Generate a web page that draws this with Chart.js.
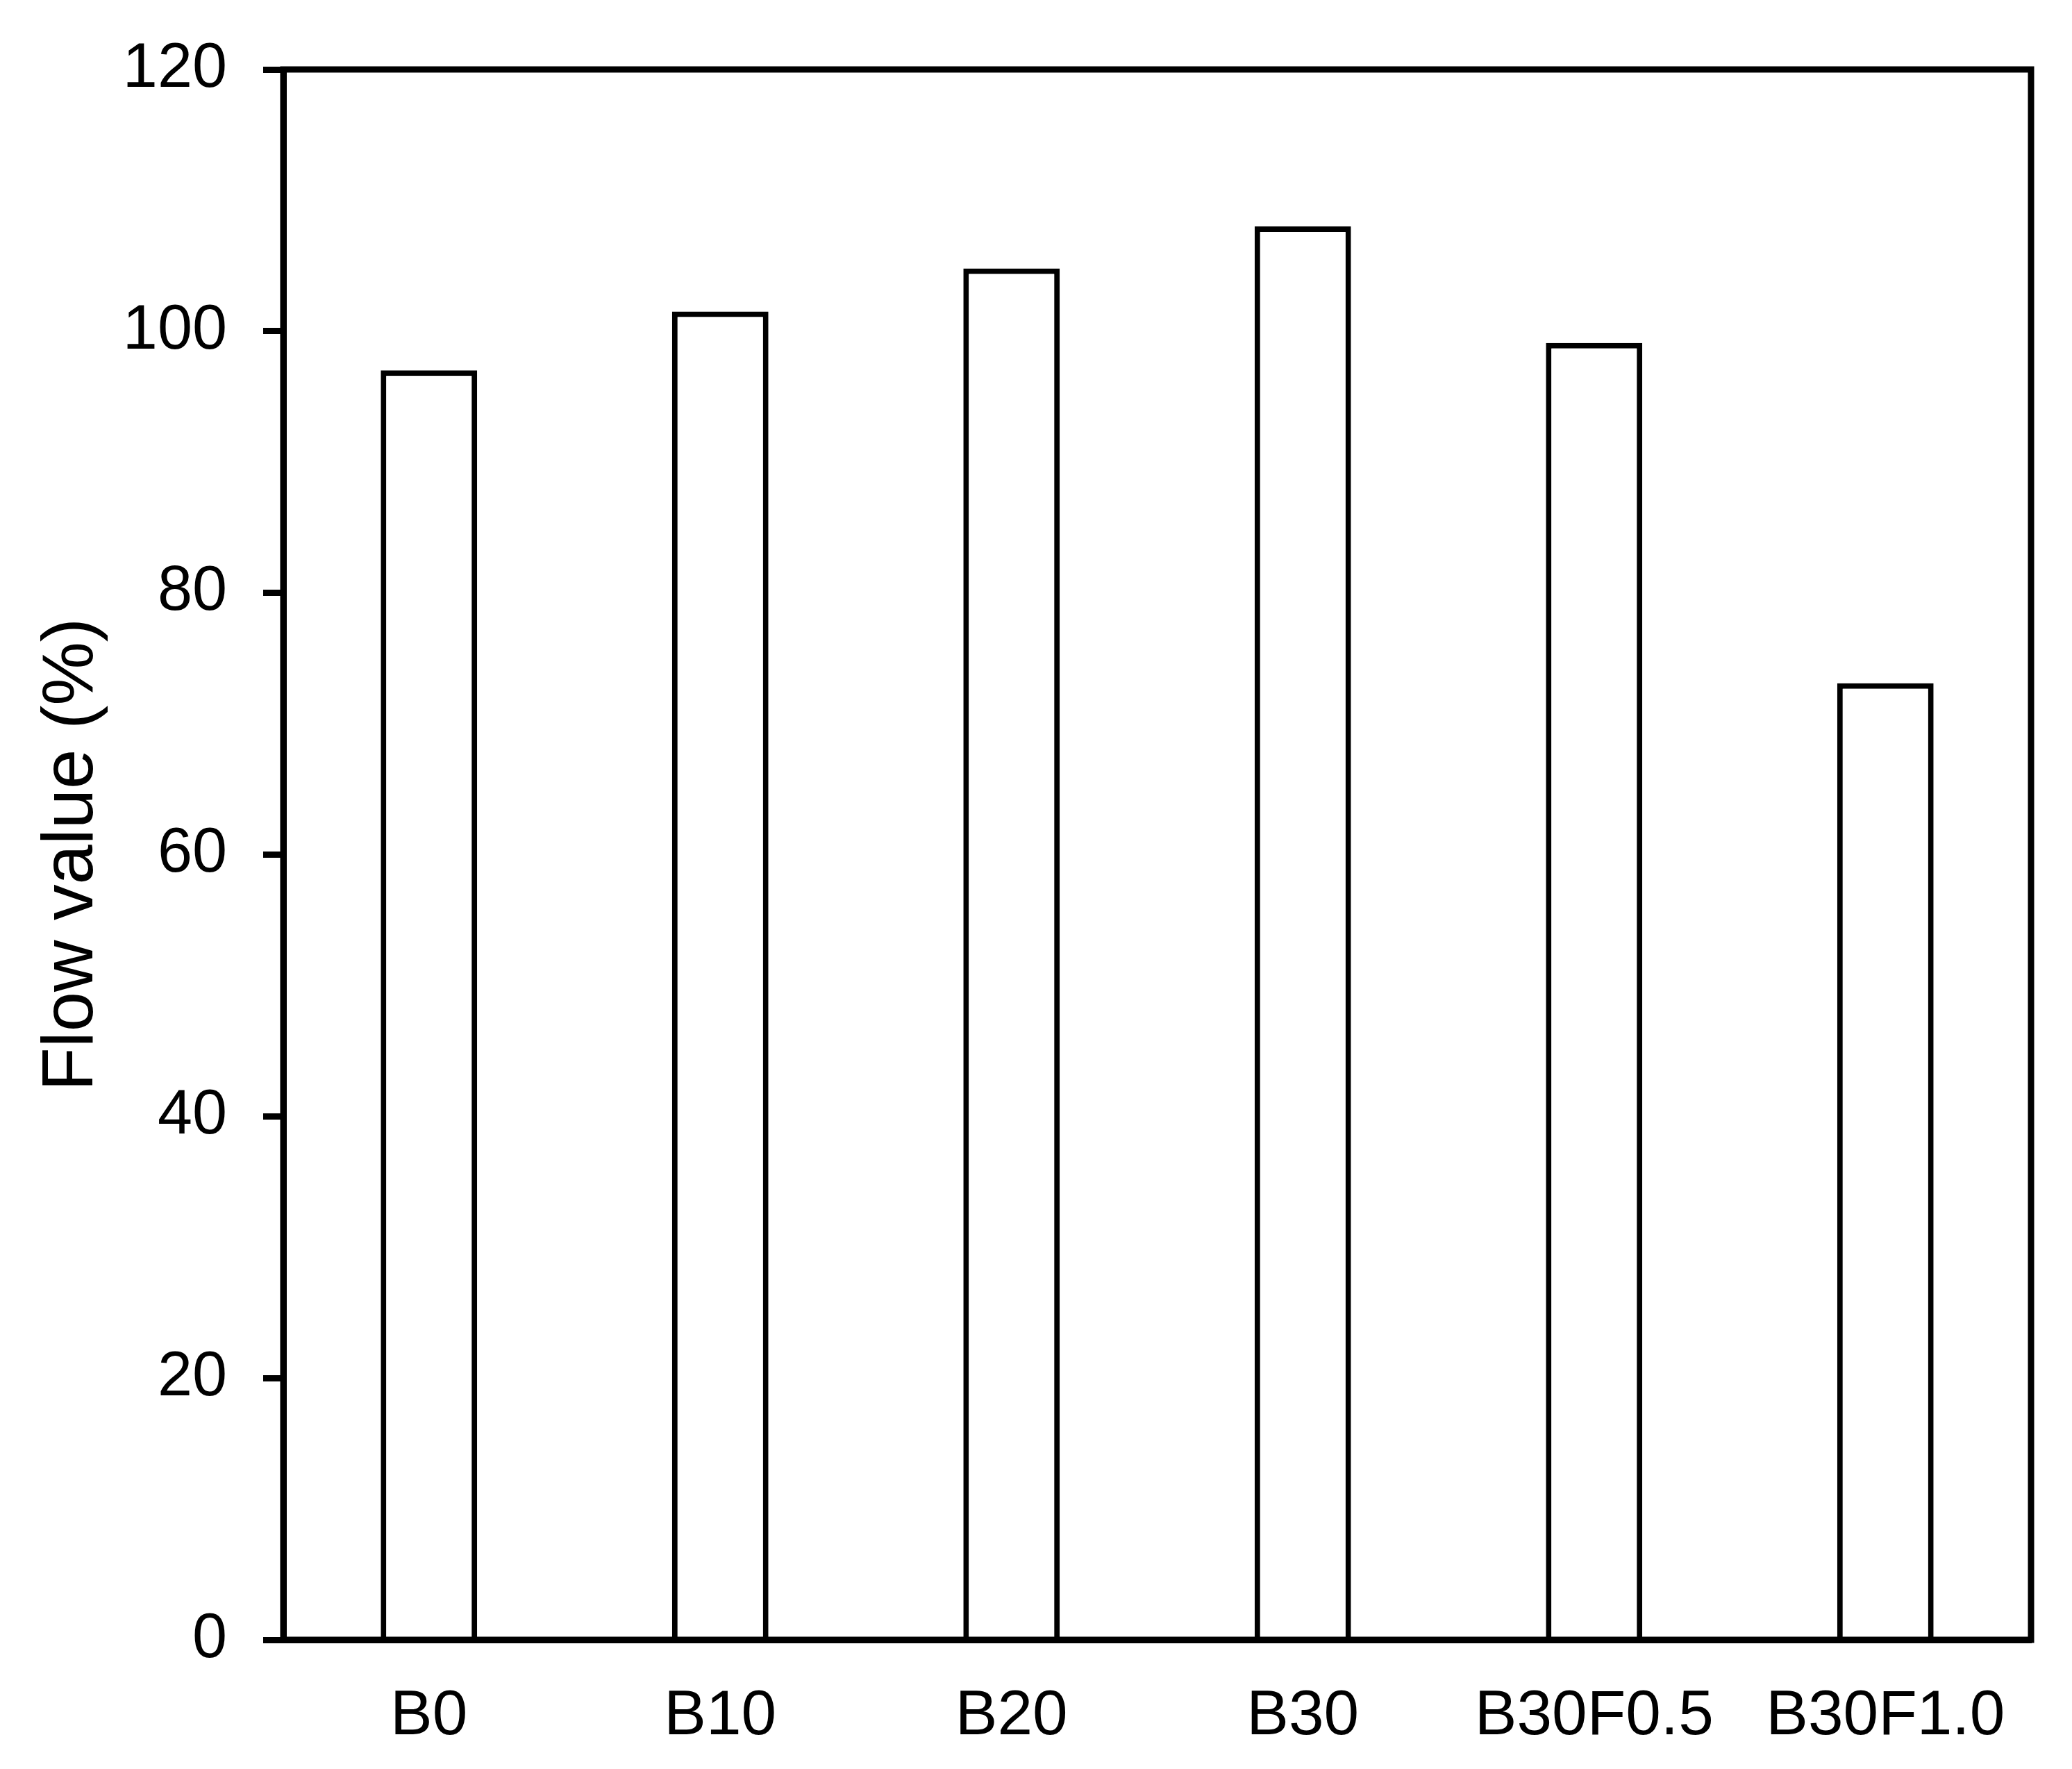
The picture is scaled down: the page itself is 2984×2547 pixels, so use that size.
<!DOCTYPE html>
<html>
<head>
<meta charset="utf-8">
<title>Flow value</title>
<script src="https://cdn.jsdelivr.net/npm/chart.js@4.4.1/dist/chart.umd.min.js"></script>
<style>
  html, body { margin: 0; padding: 0; background: #ffffff; }
  #wrap { width: 2984px; height: 2547px; }
</style>
</head>
<body>
<div id="wrap">
  <canvas id="theChart" width="2984" height="2547"></canvas>
</div>
<script>
'use strict';
// data
var mixNames = ['B0', 'B10', 'B20', 'B30', 'B30F0.5', 'B30F1.0'];
var flowValues = [97, 101.5, 104.8, 108, 99.1, 73.1];
var yTicks = [0, 20, 40, 60, 80, 100, 120];
var yTitle = 'Flow value (%)';

var fontName = "'Liberation Sans', Arial, sans-serif";
var lineW = 9;

Chart.defaults.color = '#000000';
Chart.defaults.font.family = fontName;

// box around the plot (top and right sides)
var frame = {
    id: 'frame',
    afterDraw: function (chart) {
        var a = chart.chartArea;
        var ctx = chart.ctx;
        ctx.save();
        ctx.strokeStyle = '#000000';
        ctx.lineWidth = lineW;
        ctx.lineJoin = 'miter';
        ctx.strokeRect(a.left, a.top, a.right - a.left, a.bottom - a.top);
        ctx.restore();
    }
};

var ctx = document.getElementById('theChart').getContext('2d');
var chart = new Chart(ctx, {
    type: 'bar',
    data: {
        labels: mixNames,
        datasets: [{
            label: 'Flow value',
            data: flowValues,
            backgroundColor: '#ffffff',
            borderColor: '#000000',
            borderWidth: 8,
            borderSkipped: 'start',
            inflateAmount: 0,
            categoryPercentage: 1,
            barPercentage: 0.331
        }]
    },
    options: {
        responsive: false,
        animation: false,
        devicePixelRatio: 1,
        layout: { padding: { top: 100, right: 59, left: 0, bottom: 0 } },
        plugins: {
            legend: { display: false },
            tooltip: { enabled: false }
        },
        scales: {
            x: {
                z: 1,
                grid: { display: true, drawOnChartArea: false, drawTicks: false },
                border: { display: true, color: '#000000', width: lineW },
                ticks: { font: { size: 91 }, padding: 56, maxRotation: 0, autoSkip: false },
                afterFit: function (scale) { scale.height = 186; }
            },
            y: {
                min: 0,
                max: 120,
                afterBuildTicks: function (scale) {
                    scale.ticks = yTicks.map(function (v) { return { value: v }; });
                },
                grid: {
                    drawOnChartArea: false,
                    drawTicks: true,
                    tickLength: 29,
                    tickWidth: lineW,
                    tickColor: '#000000'
                },
                border: { display: true, color: '#000000', width: lineW },
                ticks: { font: { size: 90 }, padding: 52 },
                title: {
                    display: true,
                    text: yTitle,
                    font: { size: 103 },
                    padding: { top: 43, bottom: 0 }
                },
                afterFit: function (scale) {
                    scale.width = 408;
                    // labels may hang over the plot edge, the page has room
                    scale.paddingTop = 0;
                    scale.paddingBottom = 0;
                }
            }
        }
    },
    plugins: [frame]
});
</script>
</body>
</html>
